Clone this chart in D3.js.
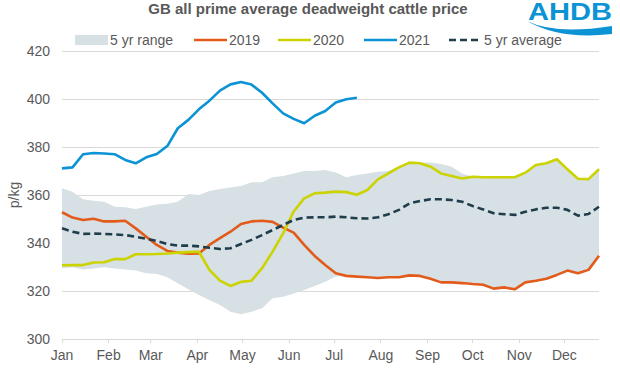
<!DOCTYPE html>
<html><head><meta charset="utf-8">
<script src="https://cdn.jsdelivr.net/npm/d3@7"></script>
<style>body{margin:0;background:#fff;} svg{display:block;font-family:"Liberation Sans",Arial,sans-serif;}</style>
</head><body><svg id="c" width="620" height="380"></svg>
<script>
// ---- data ----
const monthLabels = ["Jan","Feb","Mar","Apr","May","Jun","Jul","Aug","Sep","Oct","Nov","Dec"];
const monthStartDays = [0,31,59,90,120,151,181,212,243,273,304,334];
const yTicks = [300,320,340,360,380,400,420];

const series2019 = [352.8,350.6,349.6,350.1,349.0,349.0,349.3,346.1,342.6,339.2,336.7,336.0,335.5,335.6,339.2,342.0,344.7,347.9,349.0,349.3,348.8,346.4,344.3,339.2,334.6,330.8,327.4,326.3,326.0,
  325.7,325.4,325.7,325.7,326.5,326.3,325.1,323.6,323.6,323.3,322.9,322.6,321.0,321.5,320.7,323.6,324.3,325.1,326.7,328.5,327.4,328.8,334.7];
const series2020 = [330.7,330.8,330.8,331.9,332.0,333.3,333.3,335.3,335.3,335.4,335.6,336.0,336.2,336.4,328.8,324.3,322.1,323.8,324.3,329.5,336.4,344.0,353.1,358.6,360.7,361.0,361.4,361.2,360.1,
  362.1,366.5,369.0,371.5,373.5,373.2,371.8,369.0,367.9,366.9,367.6,367.4,367.4,367.4,367.4,369.3,372.5,373.2,374.9,370.7,366.8,366.6,370.7];
const series2021 = [371.1,371.5,377.0,377.5,377.3,377.0,374.6,373.2,375.7,377.1,380.4,387.8,391.3,395.7,399.3,403.5,406.1,407.1,406.0,402.6,398.2,394.0,391.7,389.9,393.0,395.0,398.5,399.9,400.5];
const series5yrAvg = [346.1,344.7,343.8,343.9,343.8,343.6,343.3,342.6,341.8,340.8,339.6,338.9,338.9,338.6,338.0,337.5,337.8,339.6,341.3,343.3,345.4,347.5,349.6,350.6,350.7,350.7,351.0,350.7,350.3,
  350.2,350.7,352.0,353.8,356.5,357.5,358.2,358.2,357.9,357.2,355.4,354.0,352.4,352.0,351.7,353.0,354.0,354.7,354.7,353.8,351.4,352.1,355.1];
const rangeHigh = [362.8,361.4,358.2,357.6,357.2,355.1,354.9,354.2,355.1,356.0,356.4,357.2,360.4,360.0,361.7,362.5,363.1,363.8,365.3,365.3,
  367.4,367.9,369.0,370.0,370.0,370.4,369.4,367.4,368.3,369.0,369.7,370.0,372.0,373.5,373.5,373.5,372.9,371.8,
  369.0,367.6,367.4,367.4,367.4,367.4,369.3,372.5,373.2,374.9,370.7,366.8,366.6,370.7];
const rangeLow = [329.5,329.9,329.0,329.4,329.9,329.4,329.0,328.5,327.4,327.1,325.7,323.2,320.7,318.3,316.2,314.2,311.4,310.3,311.4,312.8,317.0,317.6,319.0,320.4,322.1,323.9,326.0,326.3,
  326.0,325.7,325.4,325.7,325.7,326.5,326.3,325.1,323.6,323.6,323.3,322.9,322.6,321.0,321.5,320.7,323.6,324.3,325.1,326.7,328.5,327.4,328.8,334.7];

const legendLabels = ["5 yr range","2019","2020","2021","5 yr average"];
const titleText = "GB all prime average deadweight cattle price";

// ---- chart ----
const svg = d3.select("#c");
const textCol = "#595959";
const x = d3.scaleLinear().domain([0, 51]).range([62, 599]);
const y = d3.scaleLinear().domain([300, 420]).range([339, 51]);

// gridlines
svg.append("g").selectAll("line").data(yTicks).join("line")
  .attr("x1", x(0)).attr("x2", x(51))
  .attr("y1", d => y(d)).attr("y2", d => y(d))
  .attr("stroke", "#d9d9d9").attr("stroke-width", 1).attr("shape-rendering","crispEdges");

// y labels
svg.append("g").selectAll("text").data(yTicks).join("text")
  .attr("x", 50).attr("y", d => y(d)).attr("dy", "0.35em")
  .attr("text-anchor", "end").attr("font-size", 14).attr("fill", textCol)
  .text(d => d);

svg.append("text").attr("transform", "translate(19,195) rotate(-90)")
  .attr("text-anchor", "middle").attr("font-size", 14).attr("fill", textCol).text("p/kg");

// x axis ticks
const tickX = monthStartDays.map(d => x(d / 7));
svg.append("g").selectAll("line").data(tickX).join("line")
  .attr("x1", d => d).attr("x2", d => d).attr("y1", y(300)).attr("y2", y(300) + 4)
  .attr("stroke", "#d9d9d9").attr("shape-rendering","crispEdges");
svg.append("g").selectAll("text").data(monthLabels).join("text")
  .attr("x", (d, i) => tickX[i]).attr("y", 360)
  .attr("text-anchor", "middle").attr("font-size", 14).attr("fill", textCol)
  .text(d => d);

// band
const area = d3.area().x((d, i) => x(i)).y0((d, i) => y(rangeLow[i])).y1(d => y(d));
svg.append("path").datum(rangeHigh).attr("d", area).attr("fill", "#d7e0e5");

const line = d3.line().x((d, i) => x(i)).y(d => y(d));
const seriesDefs = [
  {data: series2019, color: "#e35b1b", dash: null},
  {data: series2020, color: "#cbd300", dash: null},
  {data: series2021, color: "#0b93d5", dash: null},
  {data: series5yrAvg, color: "#1f3e4b", dash: "7,4"}
];
seriesDefs.forEach(s => {
  svg.append("path").datum(s.data).attr("d", line)
    .attr("fill", "none").attr("stroke", s.color).attr("stroke-width", 2.6)
    .attr("stroke-linejoin", "round")
    .attr("stroke-dasharray", s.dash);
});

// title
svg.append("text").attr("x", 308).attr("y", 14).attr("text-anchor", "middle")
  .attr("font-size", 15).attr("font-weight", "bold").attr("fill", textCol).text(titleText);

// legend
const legX = [75, 194, 278, 364, 449];
const legY = 40;
legendLabels.forEach((lab, i) => {
  const g = svg.append("g");
  if (i === 0) {
    g.append("rect").attr("x", legX[i]).attr("y", legY - 5).attr("width", 33).attr("height", 10).attr("fill", "#d7e0e5");
  } else {
    const s = seriesDefs[i - 1];
    g.append("line").attr("x1", legX[i]).attr("x2", legX[i] + 33).attr("y1", legY).attr("y2", legY)
      .attr("stroke", s.color).attr("stroke-width", 2.6).attr("stroke-dasharray", s.dash);
  }
  g.append("text").attr("x", legX[i] + 35).attr("y", legY).attr("dy", "0.35em")
    .attr("font-size", 14).attr("fill", textCol).text(lab);
});

// logo
svg.append("text").attr("x", 528).attr("y", 20)
  .attr("font-size", 23).attr("font-weight", "bold").attr("fill", "#0b93d5")
  .attr("textLength", 84).attr("lengthAdjust", "spacingAndGlyphs").text("AHDB");
svg.append("path").attr("d", "M527,21 Q555,35 612,26 L612,34 Q560,40 527,21 Z").attr("fill", "#0b93d5");
</script></body></html>
